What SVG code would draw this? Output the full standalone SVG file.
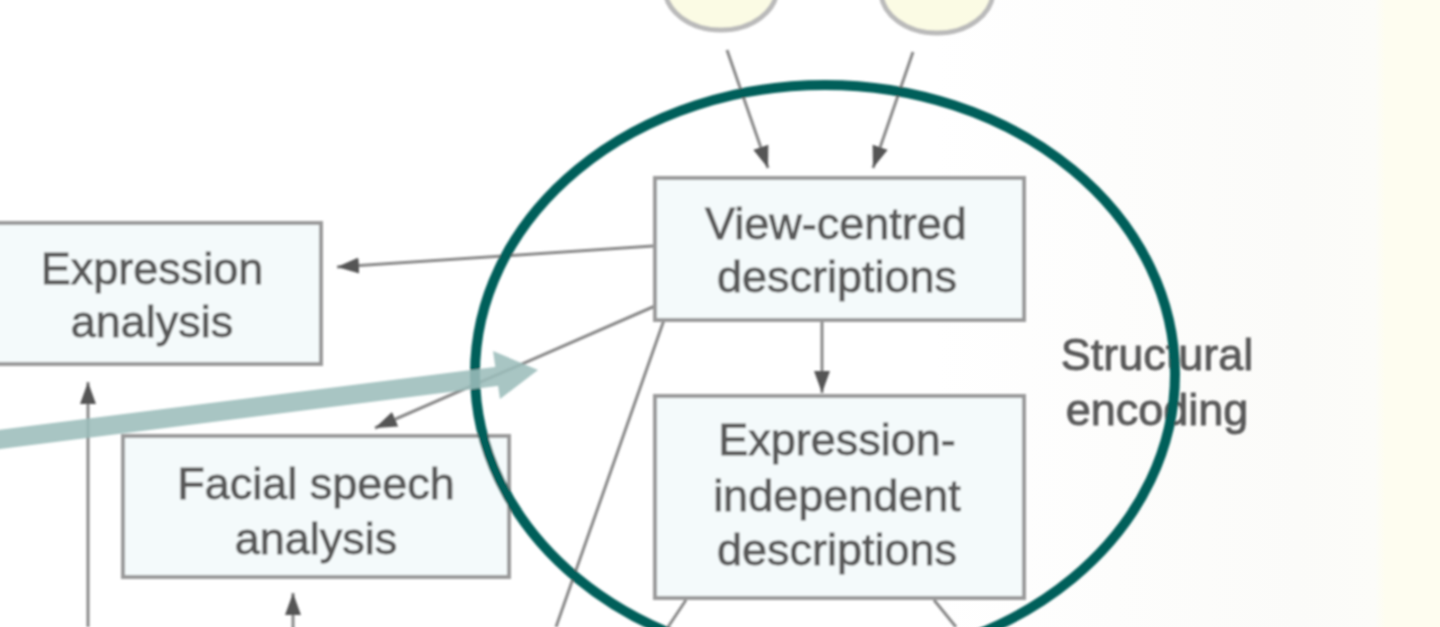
<svg xmlns="http://www.w3.org/2000/svg" width="1440" height="627" viewBox="0 0 1440 627">
  <defs>
    <marker id="ah" markerUnits="userSpaceOnUse" markerWidth="24" markerHeight="18" refX="22" refY="9" orient="auto">
      <path d="M0,1 L22,9 L0,17 z" fill="#555"/>
    </marker>
    <filter id="soft" x="-5%" y="-5%" width="110%" height="110%">
      <feGaussianBlur stdDeviation="1.2"/>
    </filter>
    <linearGradient id="bg" x1="0" y1="0" x2="1" y2="0">
      <stop offset="0" stop-color="#ffffff"/>
      <stop offset="0.65" stop-color="#ffffff"/>
      <stop offset="0.9" stop-color="#fbfbf9"/>
      <stop offset="0.955" stop-color="#fcfcf9"/>
      <stop offset="0.962" stop-color="#fefdf0"/>
      <stop offset="1" stop-color="#fefdf0"/>
    </linearGradient>
    <style>
      .box { fill: #f4fafb; stroke: #9a9a9a; stroke-width: 4; }
      .src { fill: #fbfbe4; stroke: #bababa; stroke-width: 5; }
      .lbl { font-family: "Liberation Sans", Arial, sans-serif; font-size: 45px; fill: #595959; stroke: #595959; stroke-width: 0.9; text-anchor: middle; }
      .con { stroke: #888888; stroke-width: 3; fill: none; }
      .arr { marker-end: url(#ah); }
    </style>
  </defs>
  <rect x="0" y="0" width="1440" height="627" fill="url(#bg)"/>
  <g filter="url(#soft)">
    <g id="src-left"><ellipse class="src" cx="721" cy="-12" rx="56" ry="42"/></g>
    <g id="src-right"><ellipse class="src" cx="937" cy="-9" rx="56" ry="42"/></g>

    <g id="connectors">
      <line class="con arr" x1="727" y1="50" x2="768" y2="168"/>
      <line class="con arr" x1="913" y1="52" x2="873" y2="168"/>
      <line class="con arr" x1="653" y1="246" x2="337" y2="267"/>
      <line class="con arr" x1="655" y1="306" x2="375" y2="428"/>
      <line class="con" x1="664" y1="320" x2="556" y2="627"/>
      <line class="con arr" x1="822" y1="322" x2="822" y2="393"/>
      <line class="con arr" x1="88" y1="627" x2="88" y2="382"/>
      <line class="con arr" x1="293" y1="640" x2="293" y2="593"/>
      <line class="con" x1="686" y1="600" x2="668" y2="627"/>
      <line class="con" x1="934" y1="600" x2="956" y2="627"/>
    </g>

    <g id="view-centred">
      <rect class="box" x="655" y="178" width="369" height="142"/>
      <text class="lbl" x="836" y="239">View-centred</text>
      <text class="lbl" x="837" y="292">descriptions</text>
    </g>
    <g id="expression-independent">
      <rect class="box" x="655" y="396" width="369" height="202"/>
      <text class="lbl" x="837" y="455">Expression-</text>
      <text class="lbl" x="837" y="511">independent</text>
      <text class="lbl" x="837" y="565">descriptions</text>
    </g>
    <g id="expression-analysis">
      <rect class="box" x="-20" y="223" width="341" height="141"/>
      <text class="lbl" x="152" y="284">Expression</text>
      <text class="lbl" x="152" y="337">analysis</text>
    </g>
    <g id="facial-speech">
      <rect class="box" x="123" y="436" width="386" height="141"/>
      <text class="lbl" x="316" y="499">Facial speech</text>
      <text class="lbl" x="316" y="554">analysis</text>
    </g>
    <g id="structural-encoding">
      <text class="lbl" x="1157" y="370">Structural</text>
      <text class="lbl" x="1157" y="425">encoding</text>
    </g>

    <g id="highlight">
      <ellipse cx="825" cy="374" rx="350" ry="289" fill="none" stroke="#005f5a" stroke-width="10"/>
    </g>
    <g id="pointer" opacity="0.88">
      <line x1="-5" y1="440" x2="500" y2="376" stroke="#9cbdbb" stroke-width="19"/>
      <polygon points="538,370 493,351 500,399" fill="#9cbdbb"/>
    </g>
  </g>
</svg>
